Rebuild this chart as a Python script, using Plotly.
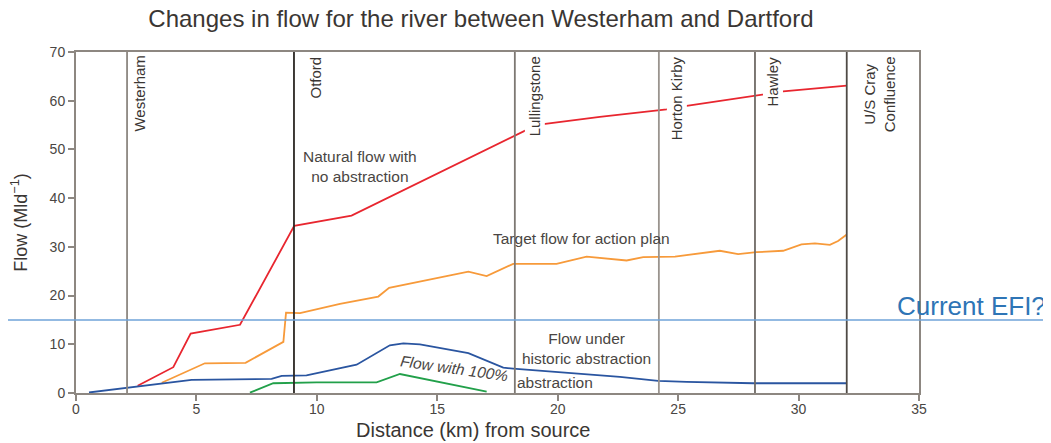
import plotly.graph_objects as go

# ---- data ----
nat_x = [2.56, 4.04, 4.76, 6.81, 9.06, 11.44, 18.71, 19.4, 21.75, 24.52, 25.28, 28.6, 29.36, 32.0]
nat_y = [1.5, 5.3, 12.2, 14.0, 34.3, 36.4, 54.0, 55.2, 56.7, 58.2, 58.9, 61.3, 61.9, 63.1]

tgt_x = [3.56, 5.35, 7.04, 8.61, 8.72, 9.3, 10.96, 12.55, 13.0, 16.29, 17.05, 18.15, 19.95, 21.2,
         22.86, 23.55, 24.87, 26.73, 27.49, 28.25, 29.36, 30.12, 30.68, 31.3, 31.64, 31.99]
tgt_y = [2.1, 6.1, 6.2, 10.5, 16.5, 16.4, 18.3, 19.8, 21.6, 24.9, 24.0, 26.5, 26.5, 28.0,
         27.2, 27.9, 28.0, 29.2, 28.5, 28.9, 29.2, 30.5, 30.7, 30.4, 31.2, 32.5]

hist_x = [0.54, 2.52, 3.49, 4.8, 8.12, 8.54, 9.57, 11.65, 13.03, 13.59, 14.28, 16.29, 17.74, 18.15,
          22.58, 24.17, 25.35, 28.12, 32.0]
hist_y = [0.1, 1.3, 1.8, 2.7, 2.9, 3.5, 3.6, 5.8, 9.8, 10.2, 10.0, 8.2, 5.2, 5.0,
          3.3, 2.5, 2.3, 2.0, 2.0]

full_x = [7.22, 8.19, 9.99, 12.48, 13.45, 17.05]
full_y = [0.07, 2.0, 2.2, 2.2, 3.9, 0.3]

sites = ["Westerham", "Otford", "Lullingstone", "Horton Kirby", "Hawley", "U/S Cray<br>Confluence"]
site_km = [2.12, 9.05, 18.22, 24.2, 28.19, 32.0]

efi = 15.0
x_ticks = [0, 5, 10, 15, 20, 25, 30, 35]
y_ticks = [0, 10, 20, 30, 40, 50, 60, 70]

# ---- style ----
site_colors = ["#8d8781", "#2b2622", "#7d7873", "#9a948e", "#6f6a65", "#4f4a46"]
site_label_shift = [1, 11, 9, 7, 7, 12]
FONT = "Liberation Sans, Arial, sans-serif"
AX = "#8d8781"

fig = go.Figure()
fig.add_trace(go.Scatter(x=nat_x, y=nat_y, mode="lines", line=dict(color="#e8262f", width=1.8)))
fig.add_trace(go.Scatter(x=tgt_x, y=tgt_y, mode="lines", line=dict(color="#f79a3a", width=1.8)))
fig.add_trace(go.Scatter(x=hist_x, y=hist_y, mode="lines", line=dict(color="#2a55a0", width=1.8)))
fig.add_trace(go.Scatter(x=full_x, y=full_y, mode="lines", line=dict(color="#22a04a", width=1.8)))

for name, km, col, sh in zip(sites, site_km, site_colors, site_label_shift):
    fig.add_shape(type="line", xref="x", yref="paper", x0=km, x1=km, y0=0, y1=1,
                  line=dict(color=col, width=1.8), layer="above")
    fig.add_annotation(x=km, y=1, xref="x", yref="paper", text=name, textangle=-90,
                       xanchor="left", yanchor="top", xshift=sh, yshift=-2, showarrow=False,
                       bgcolor="white", align="center",
                       font=dict(family=FONT, size=15, color="#3a3633"))

fig.add_shape(type="line", xref="paper", yref="y", x0=-0.1, x1=1.2, y0=efi, y1=efi,
              line=dict(color="#6fa3d8", width=1.5), layer="above")
fig.add_annotation(x=0.9715, y=efi, xref="paper", yref="y", text="Current EFI?", showarrow=False,
                   xanchor="left", yanchor="bottom", yshift=-3,
                   font=dict(family=FONT, size=26, color="#2e75b6"))

txt = dict(family=FONT, size=15.5, color="#4a4643")
fig.add_annotation(x=11.79, y=46.5, text="Natural flow with<br>no abstraction", showarrow=False,
                   font=txt, align="center")
fig.add_annotation(x=21.0, y=31.8, text="Target flow for action plan", showarrow=False, font=txt)
fig.add_annotation(x=21.2, y=9.1, text="Flow under<br>historic abstraction", showarrow=False,
                   font=txt, align="center")
fig.add_annotation(x=15.73, y=5.1, text="<i>Flow with 100%</i>", showarrow=False, font=txt, textangle=8)
fig.add_annotation(x=19.88, y=2.2, text="abstraction", showarrow=False, font=txt)

# x-axis title (placed slightly left of centre, as in the reference)
fig.add_annotation(x=0.471, y=-0.1085, xref="paper", yref="paper", text="Distance (km) from source",
                   showarrow=False, xanchor="center", yanchor="middle",
                   font=dict(family=FONT, size=20, color="#3a3633"))

# the page body adds an 8px offset; margins compensate so the plot sits where the reference has it
fig.update_layout(
    width=1051, height=443,
    margin=dict(l=68, r=140, t=44, b=58),
    plot_bgcolor="white", paper_bgcolor="white",
    showlegend=False,
    title=dict(text="Changes in flow for the river between Westerham and Dartford",
               x=0.450, xanchor="center", y=0.975, yanchor="middle",
               font=dict(family=FONT, size=24, color="#3a3633")),
)
fig.update_xaxes(range=[0, 35], tickvals=x_ticks, ticks="outside", ticklen=6, tickcolor=AX,
                 tickwidth=1.5, showline=True, linecolor=AX, linewidth=2, mirror=True,
                 showgrid=False, zeroline=False, automargin=False, ticklabelstandoff=-4,
                 tickfont=dict(family=FONT, size=14, color="#4a4643"))
fig.update_yaxes(range=[0, 70], tickvals=y_ticks, ticks="outside", ticklen=6, tickcolor=AX,
                 tickwidth=1.5, showline=True, linecolor=AX, linewidth=2, mirror=True,
                 showgrid=False, zeroline=False, automargin=False,
                 tickfont=dict(family=FONT, size=14, color="#4a4643"),
                 title=dict(text="Flow (Mld<sup>−1</sup>)", standoff=21,
                            font=dict(family=FONT, size=18, color="#3a3633")))

fig.write_html("out.html")
